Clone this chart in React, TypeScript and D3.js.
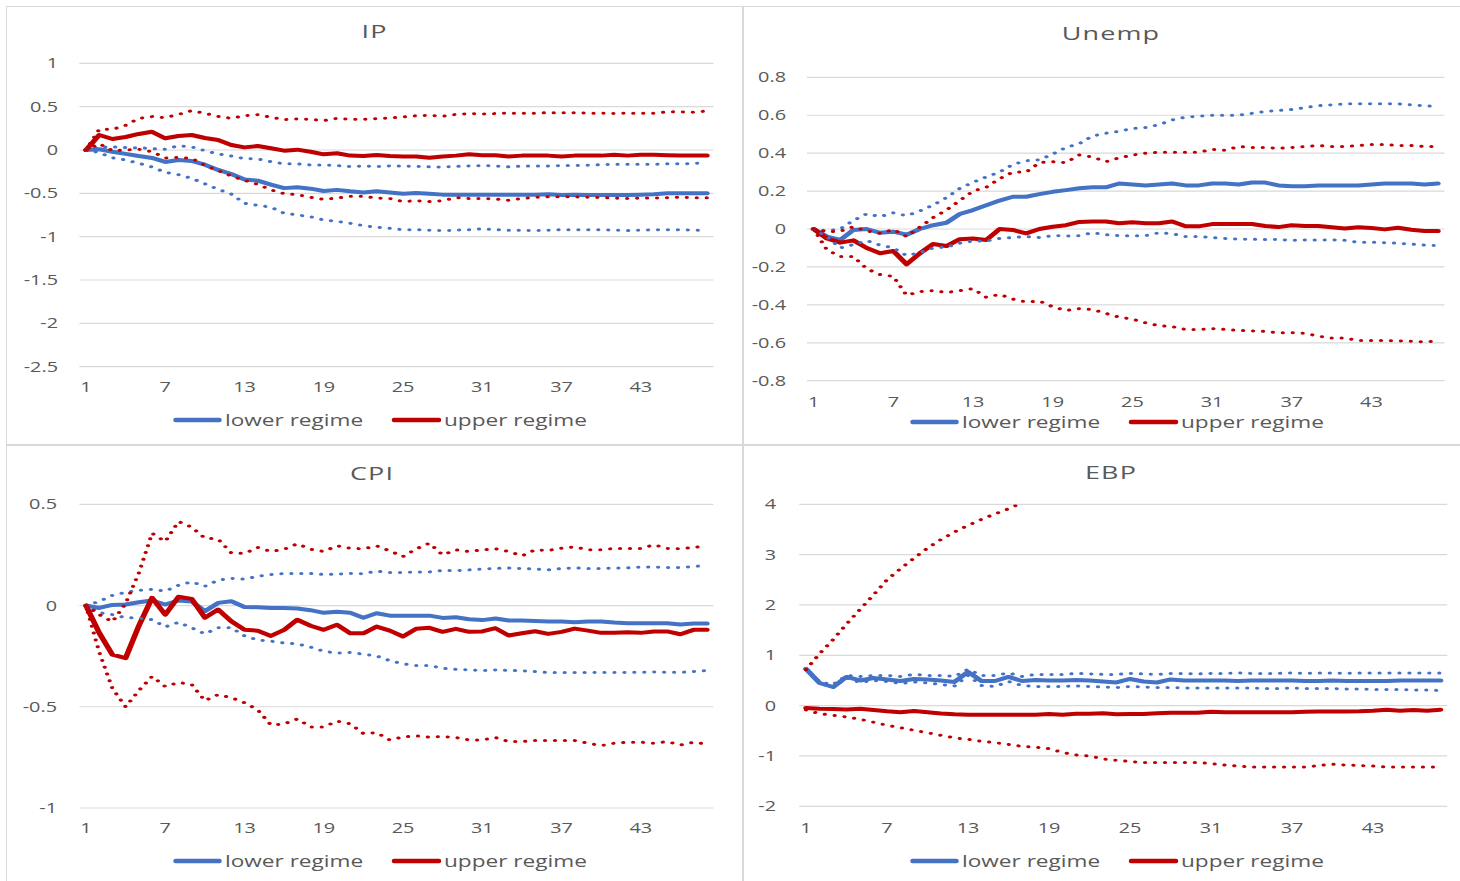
import React from 'react';
import * as d3 from 'd3';

// horizon 1..48, every 6th label shown like Excel's category axis
const periods = d3.range(1, 49);
const xTickLabels = [1, 7, 13, 19, 25, 31, 37, 43];

// the source picture is stretched sideways, so text and dots are too
const SX = 1.42;
const BLUE = '#4472C4';
const RED = '#C00000';
const GRID = '#D9D9D9';
const TEXT = '#595959';
const FONT = '"Open Sans", "Liberation Sans", sans-serif';

// ---- IP ----
const ipLower = [0, 0.008, -0.02, -0.045, -0.07, -0.092, -0.138, -0.115, -0.127, -0.17, -0.23, -0.277, -0.34, -0.354, -0.4, -0.44, -0.43, -0.446, -0.473, -0.46, -0.477, -0.49, -0.477, -0.49, -0.505, -0.495, -0.505, -0.515, -0.515, -0.515, -0.515, -0.515, -0.515, -0.515, -0.515, -0.51, -0.52, -0.515, -0.52, -0.52, -0.52, -0.52, -0.515, -0.51, -0.5, -0.5, -0.5, -0.5];
const ipLowerHi = [0, 0.035, 0.035, 0.027, 0.027, 0.015, 0.008, 0.05, 0.035, -0.008, -0.046, -0.07, -0.1, -0.104, -0.135, -0.16, -0.16, -0.173, -0.173, -0.18, -0.19, -0.185, -0.19, -0.185, -0.185, -0.19, -0.195, -0.195, -0.19, -0.185, -0.18, -0.185, -0.195, -0.185, -0.185, -0.185, -0.18, -0.18, -0.175, -0.17, -0.165, -0.165, -0.165, -0.165, -0.16, -0.16, -0.155, -0.145];
const ipLowerLo = [0, -0.03, -0.09, -0.115, -0.154, -0.196, -0.258, -0.285, -0.327, -0.39, -0.454, -0.508, -0.615, -0.638, -0.66, -0.73, -0.75, -0.77, -0.808, -0.823, -0.846, -0.873, -0.89, -0.904, -0.92, -0.92, -0.925, -0.93, -0.925, -0.92, -0.91, -0.92, -0.925, -0.925, -0.93, -0.925, -0.92, -0.92, -0.92, -0.92, -0.925, -0.93, -0.925, -0.92, -0.92, -0.92, -0.925, -0.93];
const ipUpper = [0, 0.173, 0.127, 0.15, 0.185, 0.21, 0.135, 0.162, 0.173, 0.138, 0.115, 0.058, 0.03, 0.046, 0.02, -0.008, 0.004, -0.02, -0.05, -0.038, -0.065, -0.07, -0.058, -0.07, -0.075, -0.075, -0.09, -0.075, -0.065, -0.05, -0.06, -0.06, -0.075, -0.065, -0.065, -0.065, -0.075, -0.065, -0.065, -0.065, -0.055, -0.065, -0.055, -0.055, -0.06, -0.065, -0.065, -0.065];
const ipUpperHi = [0, 0.238, 0.238, 0.285, 0.365, 0.385, 0.373, 0.41, 0.454, 0.423, 0.388, 0.365, 0.396, 0.408, 0.377, 0.35, 0.358, 0.354, 0.338, 0.365, 0.354, 0.354, 0.362, 0.37, 0.38, 0.395, 0.4, 0.39, 0.41, 0.42, 0.415, 0.42, 0.425, 0.425, 0.425, 0.43, 0.43, 0.43, 0.425, 0.425, 0.42, 0.425, 0.425, 0.425, 0.44, 0.44, 0.435, 0.45];
const ipUpperLo = [0, 0.073, -0.008, 0, 0.008, -0.02, -0.092, -0.085, -0.096, -0.177, -0.238, -0.3, -0.35, -0.396, -0.46, -0.504, -0.515, -0.546, -0.57, -0.554, -0.535, -0.535, -0.554, -0.56, -0.595, -0.585, -0.595, -0.585, -0.55, -0.56, -0.56, -0.565, -0.58, -0.56, -0.545, -0.54, -0.54, -0.54, -0.545, -0.55, -0.555, -0.56, -0.555, -0.555, -0.55, -0.545, -0.55, -0.55];

// ---- Unemp ----
const unLower = [0, -0.04, -0.058, -0.005, 0, -0.02, -0.014, -0.03, 0, 0.02, 0.033, 0.079, 0.1, 0.125, 0.15, 0.17, 0.17, 0.184, 0.196, 0.205, 0.215, 0.22, 0.22, 0.24, 0.235, 0.23, 0.235, 0.24, 0.23, 0.23, 0.24, 0.24, 0.235, 0.245, 0.245, 0.23, 0.225, 0.225, 0.23, 0.23, 0.23, 0.23, 0.235, 0.24, 0.24, 0.24, 0.235, 0.24];
const unLowerHi = [0, -0.01, 0, 0.045, 0.08, 0.065, 0.085, 0.07, 0.095, 0.126, 0.165, 0.214, 0.246, 0.275, 0.3, 0.34, 0.36, 0.365, 0.395, 0.43, 0.45, 0.49, 0.505, 0.515, 0.53, 0.535, 0.55, 0.575, 0.59, 0.595, 0.6, 0.6, 0.6, 0.61, 0.62, 0.625, 0.63, 0.64, 0.65, 0.655, 0.66, 0.66, 0.66, 0.66, 0.66, 0.655, 0.65, 0.645];
const unLowerLo = [0, -0.04, -0.1, -0.082, -0.061, -0.085, -0.1, -0.14, -0.125, -0.1, -0.095, -0.075, -0.063, -0.063, -0.05, -0.045, -0.04, -0.045, -0.035, -0.037, -0.035, -0.02, -0.03, -0.035, -0.035, -0.035, -0.02, -0.025, -0.04, -0.04, -0.045, -0.05, -0.053, -0.054, -0.056, -0.055, -0.06, -0.058, -0.058, -0.057, -0.06, -0.07, -0.07, -0.072, -0.075, -0.08, -0.085, -0.088];
const unUpper = [0, -0.05, -0.072, -0.06, -0.1, -0.128, -0.116, -0.186, -0.128, -0.079, -0.09, -0.054, -0.05, -0.058, 0, -0.005, -0.023, 0, 0.012, 0.02, 0.037, 0.04, 0.04, 0.03, 0.035, 0.03, 0.03, 0.04, 0.014, 0.014, 0.026, 0.026, 0.026, 0.026, 0.016, 0.01, 0.02, 0.016, 0.016, 0.009, 0.003, 0.009, 0.005, -0.002, 0.007, -0.004, -0.01, -0.01];
const unUpperHi = [0, -0.015, -0.012, 0.012, -0.01, -0.023, -0.003, -0.04, 0.01, 0.06, 0.1, 0.15, 0.2, 0.22, 0.265, 0.3, 0.3, 0.35, 0.355, 0.35, 0.39, 0.38, 0.355, 0.375, 0.39, 0.4, 0.405, 0.405, 0.405, 0.405, 0.42, 0.415, 0.435, 0.43, 0.43, 0.425, 0.43, 0.435, 0.44, 0.435, 0.435, 0.44, 0.445, 0.445, 0.44, 0.44, 0.435, 0.435];
const unUpperLo = [0, -0.11, -0.145, -0.145, -0.21, -0.24, -0.25, -0.35, -0.33, -0.325, -0.335, -0.325, -0.315, -0.36, -0.345, -0.37, -0.385, -0.38, -0.41, -0.43, -0.42, -0.425, -0.445, -0.465, -0.475, -0.495, -0.51, -0.515, -0.53, -0.53, -0.525, -0.53, -0.535, -0.537, -0.54, -0.547, -0.547, -0.55, -0.565, -0.575, -0.575, -0.588, -0.588, -0.588, -0.59, -0.592, -0.595, -0.59];

// ---- CPI ----
const cpiLower = [0, -0.012, 0.003, 0.005, 0.016, 0.025, 0.005, 0.025, 0.02, -0.028, 0.013, 0.021, -0.007, -0.008, -0.012, -0.012, -0.015, -0.023, -0.036, -0.031, -0.036, -0.06, -0.038, -0.05, -0.05, -0.05, -0.05, -0.061, -0.058, -0.068, -0.072, -0.064, -0.074, -0.074, -0.076, -0.079, -0.079, -0.082, -0.079, -0.079, -0.084, -0.087, -0.087, -0.087, -0.087, -0.094, -0.089, -0.089];
const cpiLowerHi = [0, 0.02, 0.05, 0.065, 0.075, 0.08, 0.071, 0.1, 0.117, 0.095, 0.125, 0.134, 0.13, 0.145, 0.153, 0.158, 0.158, 0.158, 0.153, 0.155, 0.158, 0.157, 0.17, 0.163, 0.163, 0.166, 0.166, 0.173, 0.172, 0.176, 0.18, 0.183, 0.185, 0.183, 0.18, 0.176, 0.183, 0.186, 0.183, 0.183, 0.186, 0.186, 0.19, 0.19, 0.188, 0.188, 0.193, 0.198];
const cpiLowerLo = [0, -0.035, -0.045, -0.06, -0.062, -0.07, -0.105, -0.083, -0.11, -0.14, -0.11, -0.109, -0.15, -0.17, -0.176, -0.185, -0.19, -0.205, -0.226, -0.235, -0.232, -0.24, -0.249, -0.272, -0.288, -0.296, -0.296, -0.31, -0.315, -0.318, -0.321, -0.318, -0.321, -0.322, -0.326, -0.331, -0.331, -0.331, -0.331, -0.33, -0.331, -0.33, -0.33, -0.328, -0.33, -0.33, -0.326, -0.321];
const cpiUpper = [0, -0.135, -0.243, -0.26, -0.1, 0.038, -0.045, 0.043, 0.033, -0.06, -0.02, -0.078, -0.12, -0.124, -0.15, -0.12, -0.07, -0.1, -0.12, -0.095, -0.137, -0.137, -0.104, -0.124, -0.153, -0.115, -0.11, -0.13, -0.115, -0.13, -0.128, -0.112, -0.148, -0.137, -0.127, -0.14, -0.13, -0.114, -0.124, -0.135, -0.135, -0.132, -0.135, -0.128, -0.128, -0.142, -0.12, -0.12];
const cpiUpperHi = [0, -0.045, -0.08, 0.01, 0.16, 0.357, 0.316, 0.415, 0.387, 0.333, 0.328, 0.26, 0.257, 0.287, 0.267, 0.278, 0.305, 0.278, 0.267, 0.295, 0.283, 0.28, 0.295, 0.27, 0.242, 0.28, 0.308, 0.25, 0.275, 0.267, 0.275, 0.28, 0.267, 0.245, 0.275, 0.272, 0.283, 0.29, 0.275, 0.275, 0.282, 0.282, 0.282, 0.3, 0.282, 0.28, 0.287, 0.295];
const cpiUpperLo = [0, -0.23, -0.41, -0.5, -0.42, -0.35, -0.4, -0.38, -0.39, -0.47, -0.44, -0.455, -0.48, -0.515, -0.59, -0.585, -0.56, -0.6, -0.6, -0.571, -0.584, -0.632, -0.628, -0.664, -0.649, -0.644, -0.65, -0.647, -0.652, -0.664, -0.664, -0.652, -0.672, -0.672, -0.667, -0.667, -0.667, -0.667, -0.68, -0.692, -0.68, -0.675, -0.675, -0.68, -0.672, -0.689, -0.675, -0.685];

// ---- EBP ----
const ebpLower = [0.73, 0.45, 0.37, 0.57, 0.5, 0.55, 0.52, 0.49, 0.53, 0.52, 0.5, 0.47, 0.67, 0.49, 0.49, 0.57, 0.49, 0.51, 0.5, 0.5, 0.51, 0.5, 0.48, 0.46, 0.53, 0.48, 0.46, 0.52, 0.5, 0.5, 0.5, 0.5, 0.49, 0.5, 0.5, 0.5, 0.5, 0.49, 0.49, 0.5, 0.49, 0.49, 0.49, 0.49, 0.5, 0.5, 0.5, 0.5];
const ebpLowerHi = [0.73, 0.47, 0.42, 0.6, 0.58, 0.6, 0.6, 0.58, 0.62, 0.6, 0.6, 0.58, 0.72, 0.6, 0.6, 0.65, 0.58, 0.62, 0.62, 0.62, 0.64, 0.63, 0.62, 0.62, 0.64, 0.63, 0.62, 0.64, 0.64, 0.63, 0.64, 0.64, 0.65, 0.64, 0.64, 0.64, 0.65, 0.64, 0.65, 0.65, 0.64, 0.65, 0.65, 0.65, 0.65, 0.65, 0.65, 0.65];
const ebpLowerLo = [0.73, 0.45, 0.36, 0.55, 0.46, 0.5, 0.48, 0.44, 0.47, 0.45, 0.42, 0.39, 0.6, 0.4, 0.38, 0.48, 0.4, 0.38, 0.38, 0.38, 0.39, 0.38, 0.37, 0.36, 0.38, 0.37, 0.36, 0.36, 0.35, 0.35, 0.35, 0.35, 0.35, 0.35, 0.34, 0.34, 0.35, 0.34, 0.34, 0.34, 0.33, 0.33, 0.32, 0.32, 0.32, 0.31, 0.31, 0.3];
const ebpUpper = [-0.046, -0.06, -0.065, -0.075, -0.06, -0.085, -0.11, -0.13, -0.105, -0.13, -0.155, -0.17, -0.18, -0.18, -0.18, -0.18, -0.18, -0.18, -0.165, -0.18, -0.16, -0.16, -0.15, -0.17, -0.165, -0.165, -0.15, -0.14, -0.14, -0.14, -0.12, -0.13, -0.13, -0.13, -0.13, -0.13, -0.13, -0.12, -0.115, -0.115, -0.115, -0.11, -0.1, -0.08, -0.1, -0.085, -0.1, -0.08];
// beyond period 17 the upper band runs off the top of the axis (clipped at 4)
const ebpUpperHi = [0.715, 1.03, 1.31, 1.62, 1.91, 2.2, 2.5, 2.72, 2.93, 3.13, 3.3, 3.45, 3.58, 3.7, 3.81, 3.91, 4.03, 4.12, 4.2, 4.28, 4.35, 4.42, 4.48, 4.54, 4.6, 4.65, 4.7, 4.75, 4.79, 4.83, 4.87, 4.9, 4.93, 4.96, 4.99, 5.02, 5.04, 5.06, 5.08, 5.1, 5.12, 5.13, 5.15, 5.16, 5.17, 5.18, 5.19, 5.2];
const ebpUpperLo = [-0.085, -0.16, -0.19, -0.225, -0.27, -0.33, -0.39, -0.44, -0.49, -0.54, -0.59, -0.64, -0.67, -0.71, -0.735, -0.77, -0.81, -0.825, -0.855, -0.93, -0.98, -1.0, -1.06, -1.085, -1.11, -1.13, -1.13, -1.13, -1.13, -1.13, -1.15, -1.18, -1.2, -1.22, -1.22, -1.22, -1.22, -1.22, -1.19, -1.165, -1.18, -1.19, -1.2, -1.22, -1.22, -1.22, -1.22, -1.22];

const ipTicks = [1, 0.5, 0, -0.5, -1, -1.5, -2, -2.5];
const unTicks = [0.8, 0.6, 0.4, 0.2, 0, -0.2, -0.4, -0.6, -0.8];
const cpiTicks = [0.5, 0, -0.5, -1];
const ebpTicks = [4, 3, 2, 1, 0, -1, -2];

interface Spec {
  title: string;
  left: number;
  top: number;
  width: number;
  height: number;
  x0: number;
  x1: number;
  yDomain: [number, number];
  yRange: [number, number];
  ticks: number[];
  yLabelX: number;
  titleX: number;
  titleY: number;
  xLabelY: number;
  legendY: number;
  lower: number[];
  lowerHi: number[];
  lowerLo: number[];
  upper: number[];
  upperHi: number[];
  upperLo: number[];
}

const specs: Spec[] = [
  {
    title: 'IP', left: 6.5, top: 6.5, width: 736, height: 438,
    x0: 79.4, x1: 713.4, yDomain: [-2.5, 1], yRange: [366.7, 63.3], ticks: ipTicks,
    yLabelX: 58, titleX: 374.5, titleY: 38.3, xLabelY: 392, legendY: 420,
    lower: ipLower, lowerHi: ipLowerHi, lowerLo: ipLowerLo, upper: ipUpper, upperHi: ipUpperHi, upperLo: ipUpperLo,
  },
  {
    title: 'Unemp', left: 743.5, top: 6.5, width: 800, height: 438,
    x0: 807, x1: 1444.5, yDomain: [-0.8, 0.8], yRange: [380.7, 77.3], ticks: unTicks,
    yLabelX: 786, titleX: 1111, titleY: 40, xLabelY: 407, legendY: 422,
    lower: unLower, lowerHi: unLowerHi, lowerLo: unLowerLo, upper: unUpper, upperHi: unUpperHi, upperLo: unUpperLo,
  },
  {
    title: 'CPI', left: 6.5, top: 445.5, width: 736, height: 500,
    x0: 79.4, x1: 713.4, yDomain: [-1, 0.5], yRange: [808, 504.3], ticks: cpiTicks,
    yLabelX: 57, titleX: 372, titleY: 480, xLabelY: 833, legendY: 861,
    lower: cpiLower, lowerHi: cpiLowerHi, lowerLo: cpiLowerLo, upper: cpiUpper, upperHi: cpiUpperHi, upperLo: cpiUpperLo,
  },
  {
    title: 'EBP', left: 743.5, top: 445.5, width: 800, height: 500,
    x0: 799.25, x1: 1447.25, yDomain: [-2, 4], yRange: [806.3, 504.3], ticks: ebpTicks,
    yLabelX: 776, titleX: 1111, titleY: 479, xLabelY: 833, legendY: 861,
    lower: ebpLower, lowerHi: ebpLowerHi, lowerLo: ebpLowerLo, upper: ebpUpper, upperHi: ebpUpperHi, upperLo: ebpUpperLo,
  },
];

const Stretched: React.FC<{ x: number; y: number; size: number; anchor?: string; spacing?: number; sx?: number; children: React.ReactNode }> = ({ x, y, size, anchor = 'start', spacing = 0, sx = SX, children }) => (
  <text
    transform={`translate(${x},${y}) scale(${sx},1)`}
    textAnchor={anchor}
    fontFamily={FONT}
    fontSize={size}
    letterSpacing={spacing}
    fill={TEXT}
  >
    {children}
  </text>
);

const Panel: React.FC<{ spec: Spec }> = ({ spec }) => {
  const x = d3.scalePoint<number>().domain(periods).range([spec.x0, spec.x1]).padding(0.5);
  const y = d3.scaleLinear().domain(spec.yDomain).range(spec.yRange);
  // lines are drawn in squeezed x and stretched back, so dots come out oval like the source
  const line = d3.line<number>()
    .x((_, i) => (x(periods[i]) as number) / SX)
    .y(d => y(d));
  const clipId = `clip-${spec.title}`;
  const lx = spec.left - 6.5;

  const series = [
    { data: spec.lower, color: BLUE, dotted: false },
    { data: spec.upper, color: RED, dotted: false },
    { data: spec.lowerHi, color: BLUE, dotted: true },
    { data: spec.lowerLo, color: BLUE, dotted: true },
    { data: spec.upperHi, color: RED, dotted: true },
    { data: spec.upperLo, color: RED, dotted: true },
  ];

  return (
    <g>
      <rect x={spec.left} y={spec.top} width={spec.width} height={spec.height} fill="#fff" stroke={GRID} strokeWidth={1} />
      <Stretched x={spec.titleX} y={spec.titleY} size={19} anchor="middle" spacing={0.8}>{spec.title}</Stretched>
      {spec.ticks.map(t => (
        <g key={t}>
          <line x1={spec.x0} x2={spec.x1} y1={y(t)} y2={y(t)} stroke={GRID} strokeWidth={1.2} />
          <Stretched x={spec.yLabelX} y={y(t) + 5} size={14} anchor="end">{String(t)}</Stretched>
        </g>
      ))}
      {xTickLabels.map(p => (
        <Stretched key={p} x={x(p) as number} y={spec.xLabelY} size={14} anchor="middle">{String(p)}</Stretched>
      ))}
      <defs>
        <clipPath id={clipId}>
          <rect x={spec.x0 / SX} y={spec.yRange[1]} width={(spec.x1 - spec.x0) / SX} height={spec.yRange[0] - spec.yRange[1]} />
        </clipPath>
      </defs>
      <g transform={`scale(${SX},1)`}>
        <g clipPath={`url(#${clipId})`}>
          {series.map((s, i) => (
            <path
              key={i}
              d={line(s.data) ?? ''}
              fill="none"
              stroke={s.color}
              strokeWidth={s.dotted ? 3 : 4}
              strokeDasharray={s.dotted ? '0.01 7' : undefined}
              strokeLinecap="round"
              strokeLinejoin="round"
            />
          ))}
        </g>
      </g>
      <line x1={lx + 175.5} x2={lx + 219.5} y1={spec.legendY} y2={spec.legendY} stroke={BLUE} strokeWidth={4.5} strokeLinecap="round" />
      <Stretched x={lx + 225} y={spec.legendY + 6} size={17} sx={1.33}>lower regime</Stretched>
      <line x1={lx + 394} x2={lx + 439} y1={spec.legendY} y2={spec.legendY} stroke={RED} strokeWidth={4.5} strokeLinecap="round" />
      <Stretched x={lx + 444} y={spec.legendY + 6} size={17} sx={1.33}>upper regime</Stretched>
    </g>
  );
};

export default function App() {
  return (
    <div style={{ position: 'absolute', left: 0, top: 0, width: 1460, height: 881, background: '#fff', overflow: 'hidden' }}>
      <svg width={1460} height={881} style={{ display: 'block' }}>
        <rect width={1460} height={881} fill="#fff" />
        {specs.map(s => <Panel key={s.title} spec={s} />)}
      </svg>
    </div>
  );
}
